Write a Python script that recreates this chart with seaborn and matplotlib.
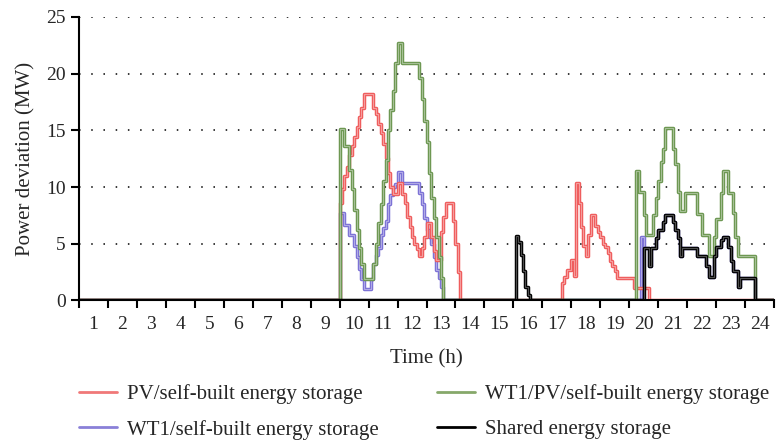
import numpy as np
import pandas as pd
import matplotlib
matplotlib.use("Agg")
import matplotlib.pyplot as plt
import matplotlib.patheffects as pe
from matplotlib.lines import Line2D
from matplotlib.colors import to_rgb
import seaborn as sns

# 5-min data, only the non-zero stretches are listed (start hour + values in MW)
red_am_start = 9.0
red_am = [8.6, 9.8, 11.0, 11.8, 12.8, 13.6, 14.4, 15.3, 16.2, 17.0,
          18.2, 18.2, 18.2, 18.2, 17.0, 16.4, 15.6, 14.8, 13.8, 12.6,
          11.2, 10.0, 9.4, 9.4, 10.4, 10.4, 9.4, 8.6, 7.4, 6.5,
          5.6, 5.0, 4.5, 3.9, 4.6, 5.6, 6.8, 6.8, 5.6, 4.4,
          3.6, 3.6, 6.0, 7.4, 8.6, 8.6, 8.6, 7.0, 5.0, 2.5]
red_pm_start = 16 + 8 / 12
red_pm = [1.5, 2.1, 2.7, 2.7, 3.6, 2.2, 10.4, 8.6, 6.5, 4.8,
          3.9, 5.8, 7.5, 7.5, 6.6, 6.0, 5.6, 5.0, 4.7, 4.2,
          3.5, 3.0, 2.6, 2.0, 2.0, 2.0, 2.0, 2.0, 2.0, 2.0,
          1.1, 1.1, 1.1, 1.1, 1.1, 1.1]

blue_am_start = 9.0
blue_am = [7.7, 7.7, 6.7, 6.7, 5.8, 5.8, 4.8, 3.8, 2.8, 1.9,
           1.0, 1.0, 1.0, 1.9, 3.2, 4.0, 4.6, 5.8, 6.4, 7.0,
           8.5, 9.3, 10.0, 10.3, 11.3, 11.3, 10.4, 10.4, 10.4, 10.4,
           10.4, 10.4, 10.4, 9.5, 8.5, 7.3, 6.2, 5.6, 5.0, 3.8,
           2.7, 2.0, 1.2]
blue_pm_start = 19 + 5 / 12
blue_pm = [5.6, 4.6, 4.6, 3.0, 4.6, 4.6, 5.5, 6.2, 6.2, 6.9,
           7.5, 7.5, 7.5, 6.9, 6.2, 5.5, 3.9, 4.6, 4.6, 4.6,
           4.6, 4.6, 4.6, 3.9, 3.9, 3.9, 3.9, 3.0, 2.1, 2.1,
           3.9, 4.7, 4.7, 5.3, 5.6, 5.6, 4.7, 3.5, 2.6, 2.6,
           1.2, 2.0, 2.0, 2.0, 2.0, 2.0, 2.0]

green_am_start = 9.0
green_am = [15.1, 15.1, 13.6, 13.6, 11.5, 9.8, 8.0, 6.2, 4.6, 3.2,
            1.9, 1.9, 1.9, 1.9, 3.2, 5.0, 6.8, 8.5, 10.5, 12.4,
            15.0, 16.8, 18.5, 20.9, 22.7, 22.7, 20.9, 20.9, 20.9, 20.9,
            20.9, 20.9, 20.9, 19.6, 17.8, 15.8, 14.0, 11.2, 9.0, 7.3,
            5.6, 3.8, 2.0]
green_pm_start = 19.25
green_pm = [11.4, 9.6, 9.6, 7.5, 5.8, 5.8, 5.8, 7.5, 9.0, 10.5,
            12.2, 13.4, 15.2, 15.2, 15.2, 13.4, 12.0, 9.6, 7.9, 7.9,
            9.45, 9.45, 9.45, 9.45, 9.45, 7.6, 7.6, 5.8, 5.8, 5.8,
            3.9, 3.9, 5.6, 7.2, 7.2, 9.45, 11.4, 11.4, 9.45, 9.45,
            7.7, 5.6, 3.9, 3.9, 3.9, 3.9, 3.9, 3.9, 3.9]

black_spike_start = 15 + 1 / 12
black_spike = [5.7, 5.2, 4.0, 2.6, 1.2, 0.5]
black_pm_start = 19.5
black_pm = [4.6, 4.6, 3.0, 4.6, 4.6, 5.5, 6.2, 6.2, 6.9, 7.5,
            7.5, 7.5, 6.9, 6.2, 5.5, 3.9, 4.6, 4.6, 4.6, 4.6,
            4.6, 4.6, 3.9, 3.9, 3.9, 3.9, 3.0, 2.1, 2.1, 3.9,
            4.7, 4.7, 5.3, 5.6, 5.6, 4.7, 3.5, 2.6, 2.6, 1.2,
            2.0, 2.0, 2.0, 2.0, 2.0, 2.0]

labels = ["PV/self-built energy storage", "WT1/self-built energy storage",
          "WT1/PV/self-built energy storage", "Shared energy storage"]
colors = ["#ef5b5b", "#7b70d6", "#6b9650", "#000000"]
hour_labels = [str(h) for h in range(1, 25)]

t = np.arange(289) / 12


def build(*parts):
    v = np.zeros(289)
    for start, vals in parts:
        i = int(round(start * 12))
        v[i:i + len(vals)] = vals
    return v


series = {
    labels[0]: build((red_am_start, red_am), (red_pm_start, red_pm)),
    labels[1]: build((blue_am_start, blue_am), (blue_pm_start, blue_pm)),
    labels[2]: build((green_am_start, green_am), (green_pm_start, green_pm)),
    labels[3]: build((black_spike_start, black_spike), (black_pm_start, black_pm)),
}
df = pd.concat([pd.DataFrame({"time": t, "value": v, "series": k}) for k, v in series.items()])

sns.set_style("ticks")
plt.rcParams["font.family"] = ["Liberation Serif", "DejaVu Serif"]

fig = plt.figure(figsize=(7.77, 4.43), dpi=100)
ax = fig.add_axes([0.1017, 0.3217, 0.8945, 0.64])

pal = dict(zip(labels, colors))
draw_order = [labels[1], labels[0], labels[2], labels[3]]
sns.lineplot(data=df, x="time", y="value", hue="series", hue_order=draw_order,
             palette=pal, drawstyle="steps-post", estimator=None, linewidth=2.6,
             legend=False, ax=ax)

# double-stroke look of the original lines
for line in ax.lines:
    c = np.array(to_rgb(line.get_color()))
    inner = c * 0.6 + 0.4 if c.sum() > 0 else np.array([0.3, 0.3, 0.3])
    line.set_path_effects([pe.Stroke(linewidth=2.5, foreground=tuple(c)), pe.Normal()])
    line.set_color(tuple(inner))
    line.set_linewidth(0.8)

ax.set_xlim(0, 24)
ax.set_ylim(0, 25)
ax.set_xticks(range(25))
ax.set_xticklabels([])
ax.set_xticks(np.arange(0.5, 24, 1), minor=True)
ax.set_xticklabels(hour_labels, minor=True)
ax.set_yticks(range(0, 26, 5))
ax.tick_params(axis="x", which="major", length=5.5, width=1.5, color="black")
ax.tick_params(axis="x", which="minor", length=0, pad=11, labelsize=14)
ax.tick_params(axis="y", length=5.5, width=1.5, color="black", labelsize=14, pad=4)

ax.yaxis.grid(True, linestyle=(0, (1, 7)), color="black", linewidth=1.1)
ax.set_axisbelow(True)
sns.despine(ax=ax)
for s in ["left", "bottom"]:
    ax.spines[s].set_linewidth(1.5)
    ax.spines[s].set_color("black")

ax.set_xlabel("Time (h)", fontsize=15, labelpad=12)
ax.set_ylabel("Power deviation (MW)", fontsize=15, labelpad=8)

handles = [Line2D([], [], color=c, linewidth=2) for c in ["#f07878", "#8a80d8", "#86a86a", "#000000"]]
fig.legend(handles, labels, loc="upper left", bbox_to_anchor=(0.1017, 0.133),
           ncol=2, frameon=False, fontsize=15, borderpad=0, borderaxespad=0,
           handlelength=1.8, handletextpad=0.5, columnspacing=2.8, labelspacing=0.75)

fig.savefig("out.png", dpi=100)
